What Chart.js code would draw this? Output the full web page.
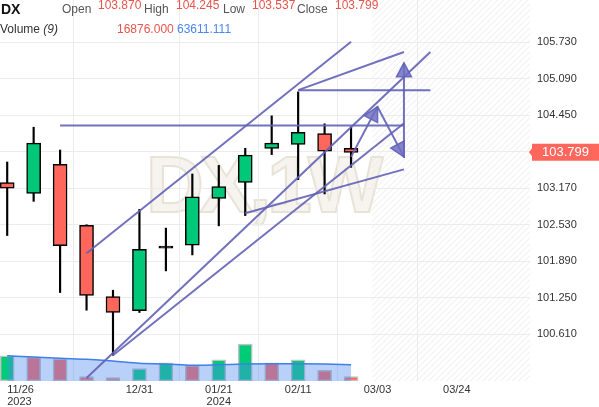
<!DOCTYPE html>
<html>
<head>
<meta charset="utf-8">
<script src="https://cdn.jsdelivr.net/npm/chart.js@4.4.1/dist/chart.umd.min.js"></script>
<style>
  html, body { margin: 0; padding: 0; background: #fff; }
  #wrap { position: relative; width: 599px; height: 407px; overflow: hidden; font-family: "Liberation Sans", Arial, sans-serif; }
  #wrap canvas { position: absolute; left: 0; top: 0; }
  .t { position: absolute; font-size: 12px; line-height: 12px; white-space: nowrap; }
  .lab { color: #555; }
  .val { color: #e5544c; }
  .ma { color: #4a86ef; }
  .wm { position: absolute; left: 146px; top: 145px; font-size: 80px; line-height: 80px; font-weight: bold;
        letter-spacing: -4px; color: rgba(241,237,228,0.6); -webkit-text-stroke: 2px #e8e3d7; white-space: nowrap; }
</style>
</head>
<body>
<div id="wrap">
  <div class="wm">DX,1W</div>
  <canvas id="chart" width="599" height="407"></canvas>
  <div class="t" style="left:1px;top:2px;font-size:14px;line-height:14px;font-weight:bold;color:#111">DX</div>
  <div class="t lab" style="left:62px;top:3px">Open</div>
  <div class="t val" id="hOpen" style="left:98px;top:-1px"></div>
  <div class="t lab" style="left:144px;top:3px">High</div>
  <div class="t val" id="hHigh" style="left:176px;top:-1px"></div>
  <div class="t lab" style="left:223px;top:3px">Low</div>
  <div class="t val" id="hLow" style="left:252px;top:-1px"></div>
  <div class="t lab" style="left:297px;top:3px">Close</div>
  <div class="t val" id="hClose" style="left:335px;top:-1px"></div>
  <div class="t" style="left:0;top:23px;color:#333">Volume <i>(9)</i></div>
  <div class="t val" id="hVol" style="left:117px;top:23px"></div>
  <div class="t ma" id="hMa" style="left:177px;top:23px"></div>
</div>
<script>
// weekly candles, DX 1W
const weeks = ['11/26', '12/03', '12/10', '12/17', '12/24', '12/31', '01/07', '01/14', '01/21', '01/28', '02/04', '02/11', '02/18', '02/25'];
const opens  = [103.27, 103.08, 103.59, 102.52, 101.27, 101.02, 102.12, 102.17, 102.99, 103.27, 103.87, 103.94, 104.13, 103.870];
const highs  = [103.63, 104.24, 103.84, 102.53, 101.38, 102.80, 102.47, 103.42, 103.57, 103.87, 104.44, 104.86, 104.30, 104.245];
const lows   = [102.34, 102.94, 101.34, 101.03, 100.24, 100.99, 101.72, 102.00, 102.51, 102.69, 103.76, 103.32, 103.07, 103.537];
const closes = [103.17, 103.96, 102.16, 101.29, 100.99, 102.10, 102.13, 103.02, 103.20, 103.75, 103.96, 104.15, 103.82, 103.799];

const volumes  = [98700, 93700, 87000, 16800, 12900, 48000, 71400, 61300, 83100, 144400, 71400, 83100, 41800, 16876];
const volumeUp = [true, false, false, false, false, true, true, false, true, true, false, true, false, false];
const volumeMA = [98700, 93700, 88600, 84700, 78100, 69100, 66400, 61300, 63600, 66400, 67500, 67500, 66400, 63611.111];

const yTicks = [100.61, 101.25, 101.89, 102.53, 103.17, 103.81, 104.45, 105.09, 105.73];
const xTickIdx = [0, 5, 8, 11, 14, 17];
const xTickLabels = [['11/26', '2023'], '12/31', ['01/21', '2024'], '02/11', '03/03', '03/24'];

// drawings: [weekIndex, price]
const channelTop  = [[3, 102.03], [13, 105.74]];
const rayFromHigh = [[11, 104.89], [15, 105.56]];
const levelHigh   = [[11, 104.89], [16, 104.89]];
const levelMid    = [[2, 104.27], [15, 104.27]];
const fanUpper    = [[3, 99.84], [16, 105.56]];
const fanLower    = [[4, 100.24], [15, 104.31]];
const lowerTrend  = [[9, 102.73], [15, 103.50]];
const arrowUp     = [[13, 103.72], [14, 104.60]];
const arrowDown   = [[14, 104.60], [15, 103.72]];
const arrowVert   = [[15, 103.70], [15, 105.37]];

const futureStart = 13.78;
const xMin = -0.272, xMax = 19.766;
const yMin = 99.788, yMax = 106.472;
const volMax = 1487000;

const GREEN = '#00c878', RED = '#ff665c', LINE = 'rgba(98,98,182,0.9)';
const FONT = '"Liberation Sans", Arial, sans-serif';

const last = closes.length - 1;
document.getElementById('hOpen').textContent = opens[last].toFixed(3);
document.getElementById('hHigh').textContent = highs[last].toFixed(3);
document.getElementById('hLow').textContent = lows[last].toFixed(3);
document.getElementById('hClose').textContent = closes[last].toFixed(3);
document.getElementById('hVol').textContent = volumes[last].toFixed(3);
document.getElementById('hMa').textContent = volumeMA[last].toFixed(3);

function drawing(pts, arrow) {
  return {
    type: 'line',
    data: pts.map(p => ({ x: p[0], y: p[1] })),
    borderColor: LINE, borderWidth: 2, pointRadius: 0, fill: false, tension: 0,
    yAxisID: 'y', order: 0, arrow: arrow
  };
}

const hatch = {
  id: 'hatch',
  beforeDatasetsDraw(chart) {
    const { ctx, chartArea: a } = chart;
    const x0 = chart.scales.x.getPixelForValue(futureStart);
    ctx.save();
    ctx.beginPath();
    ctx.rect(x0, a.top, a.right - x0, a.bottom - a.top);
    ctx.clip();
    ctx.strokeStyle = '#ebebeb';
    ctx.lineWidth = 1;
    const h = a.bottom - a.top;
    for (let k = x0 - h; k < a.right; k += 6) {
      ctx.beginPath();
      ctx.moveTo(k, a.bottom);
      ctx.lineTo(k + h, a.top);
      ctx.stroke();
    }
    ctx.restore();
  }
};

const arrows = {
  id: 'arrows',
  afterDatasetsDraw(chart) {
    const ctx = chart.ctx;
    chart.data.datasets.forEach((ds, i) => {
      if (!ds.arrow) return;
      const pts = chart.getDatasetMeta(i).data;
      const a = pts[pts.length - 2], b = pts[pts.length - 1];
      const ang = Math.atan2(b.y - a.y, b.x - a.x);
      ctx.save();
      ctx.translate(b.x, b.y);
      ctx.rotate(ang);
      ctx.beginPath();
      ctx.moveTo(0, 0);
      ctx.lineTo(-14, -7.5);
      ctx.lineTo(-14, 7.5);
      ctx.closePath();
      ctx.fillStyle = 'rgba(112,112,196,0.85)';
      ctx.fill();
      ctx.strokeStyle = LINE;
      ctx.lineWidth = 1.5;
      ctx.stroke();
      ctx.restore();
    });
  }
};

const priceBadge = {
  id: 'priceBadge',
  afterDraw(chart) {
    const { ctx, chartArea: a } = chart;
    const y = chart.scales.y.getPixelForValue(closes[last]);
    ctx.save();
    ctx.fillStyle = RED;
    ctx.beginPath();
    ctx.moveTo(a.right - 1, y);
    ctx.lineTo(a.right + 2, y - 4);
    ctx.lineTo(a.right + 2, y - 8.5);
    ctx.lineTo(599, y - 8.5);
    ctx.lineTo(599, y + 8.5);
    ctx.lineTo(a.right + 2, y + 8.5);
    ctx.lineTo(a.right + 2, y + 4);
    ctx.closePath();
    ctx.fill();
    ctx.fillStyle = '#fff';
    ctx.font = '13px ' + FONT;
    ctx.textAlign = 'center';
    ctx.textBaseline = 'middle';
    ctx.fillText(closes[last].toFixed(3), (a.right + 2 + 599) / 2, y + 0.5);
    ctx.restore();
  }
};

// keep the plot area flush with the canvas edges
function noPad(s) {
  s.paddingTop = 0; s.paddingBottom = 0; s.paddingLeft = 0; s.paddingRight = 0;
}

Chart.defaults.font.family = FONT;

new Chart(document.getElementById('chart'), {
  type: 'bar',
  data: {
    datasets: [
      drawing(channelTop), drawing(rayFromHigh), drawing(levelHigh), drawing(levelMid),
      drawing(fanUpper), drawing(fanLower), drawing(lowerTrend),
      drawing(arrowUp, true), drawing(arrowDown, true), drawing(arrowVert, true),
      {
        label: 'body',
        data: opens.map((o, i) => ({ x: i, y: [o, closes[i]] })),
        backgroundColor: c => {
          const d = closes[c.dataIndex] - opens[c.dataIndex];
          return Math.abs(d) < 0.02 ? '#000' : d > 0 ? GREEN : RED;
        },
        borderColor: '#000', borderWidth: 1.5, borderSkipped: false,
        barThickness: 14, minBarLength: 2, grouped: false, yAxisID: 'y', order: 1
      },
      {
        label: 'wick',
        data: lows.map((l, i) => ({ x: i, y: [l, highs[i]] })),
        backgroundColor: '#000', borderWidth: 0,
        barThickness: 1.5, grouped: false, yAxisID: 'y', order: 2
      },
      {
        type: 'line',
        label: 'Volume MA',
        data: volumeMA.map((v, i) => ({ x: i, y: v })),
        borderColor: '#3f7fe9', borderWidth: 1.5,
        backgroundColor: 'rgba(80,140,240,0.4)', fill: 'origin',
        pointRadius: 0, cubicInterpolationMode: 'monotone', yAxisID: 'yv', order: 4
      },
      {
        label: 'Volume',
        data: volumes.map((v, i) => ({ x: i, y: v })),
        backgroundColor: c => volumeUp[c.dataIndex] ? '#00cc78' : RED,
        borderColor: '#c2c2c2', borderWidth: 1.5, borderSkipped: false,
        barThickness: 14, grouped: false, yAxisID: 'yv', order: 5
      }
    ]
  },
  options: {
    responsive: false,
    animation: false,
    events: [],
    layout: { padding: 0 },
    plugins: { legend: { display: false }, tooltip: { enabled: false } },
    scales: {
      x: {
        type: 'linear', min: xMin, max: xMax, offset: false,
        afterBuildTicks: s => { s.ticks = xTickIdx.concat([xMax]).map(v => ({ value: v })); },
        afterFit: s => { s.height = 26; noPad(s); },
        ticks: {
          align: 'inner', maxRotation: 0, autoSkip: false, padding: 3, color: '#333',
          font: { size: 11, lineHeight: 1.1 },
          callback: (v, i) => i < xTickLabels.length ? xTickLabels[i] : ''
        },
        grid: { color: c => c.index < xTickIdx.length ? '#ececec' : 'rgba(0,0,0,0)', drawTicks: false },
        border: { display: false }
      },
      y: {
        position: 'right', min: yMin, max: yMax,
        afterBuildTicks: s => { s.ticks = yTicks.map(v => ({ value: v })); },
        afterFit: s => { s.width = 69; noPad(s); },
        ticks: { padding: 7, color: '#333', font: { size: 11 }, callback: v => Number(v).toFixed(3) },
        grid: { color: '#ececec', drawTicks: false },
        border: { display: false }
      },
      yv: { display: false, min: 0, max: volMax }
    }
  },
  plugins: [hatch, arrows, priceBadge]
});
</script>
</body>
</html>
